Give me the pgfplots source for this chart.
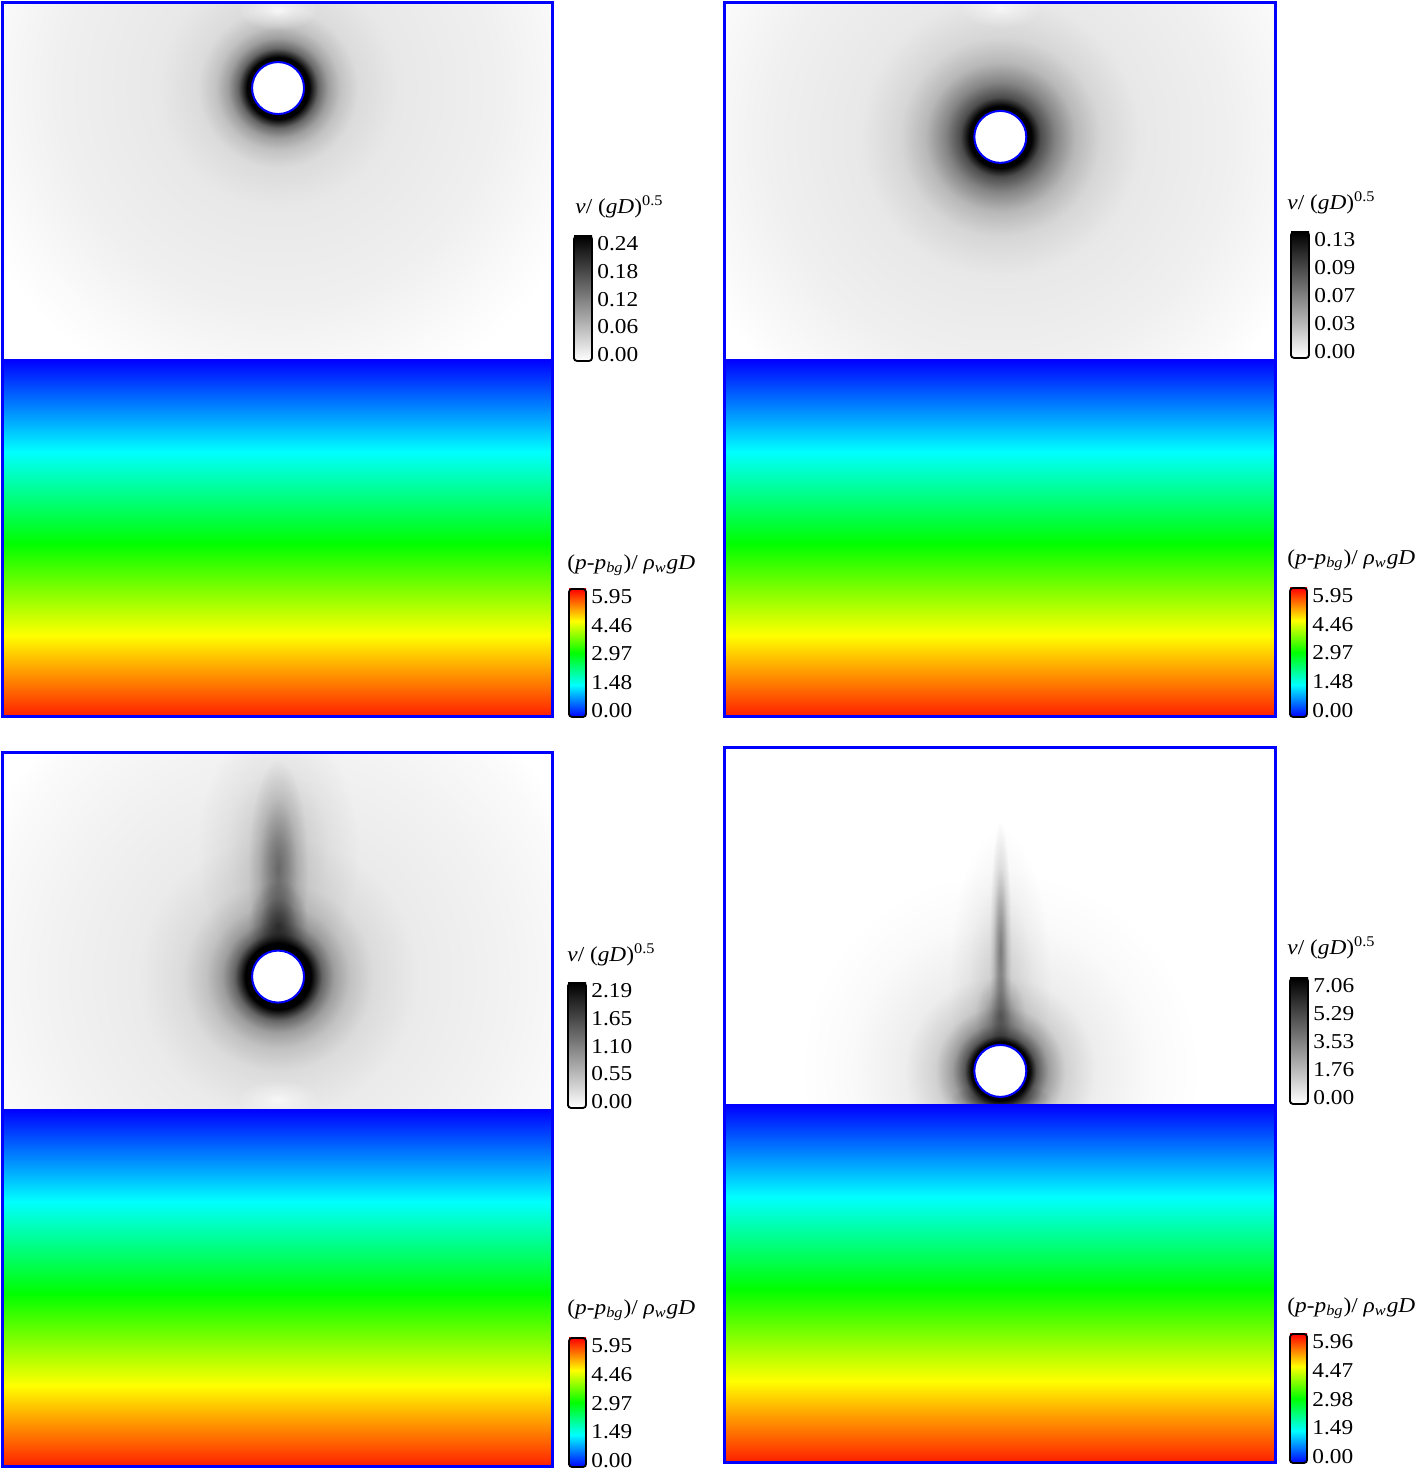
\documentclass[border=0pt]{standalone}
\usepackage{fontspec}
\setmainfont{Liberation Serif}[FakeStretch=1.1]
\usepackage{pgfplots}
\pgfplotsset{compat=1.18}

\newcommand{\lbl}{\fontsize{10.6pt}{12pt}\selectfont}
\newcommand{\vtitle}{\lbl\textit{v}/ (\textit{gD})\textsuperscript{0.5}}
\newcommand{\ptitle}{\lbl(\textit{p}-\textit{p}\textsubscript{\textit{bg}})/ \textit{ρ}\textsubscript{\textit{w}}\textit{gD}}

% colour scales
\pgfdeclareverticalshading{rainbowUp}{100bp}{color(0bp)=(blue); color(25bp)=(blue); color(37.5bp)=(cyan); color(50bp)=(green); color(62.5bp)=(yellow); color(75bp)=(red); color(100bp)=(red)}
\pgfdeclareverticalshading{rainbowDown}{100bp}{color(0bp)=(red); color(25bp)=(red); color(37.5bp)=(yellow); color(50bp)=(green); color(62.5bp)=(cyan); color(75bp)=(blue); color(100bp)=(blue)}
\pgfdeclareverticalshading{grayUp}{100bp}{color(0bp)=(white); color(25bp)=(white); color(75bp)=(black); color(100bp)=(black)}

% velocity halos around the cylinder (radius 25bp = half side of the square)
\pgfdeclareradialshading{haloTL}{\pgfpoint{0bp}{0bp}}{color(0bp)=(black); color(2.35bp)=(black); color(3.03bp)=(black!60); color(3.79bp)=(black!38); color(4.7bp)=(black!24); color(6.06bp)=(black!14); color(9.1bp)=(black!9); color(16.7bp)=(black!6); color(22bp)=(black!2); color(25bp)=(white); color(50bp)=(white)}
\pgfdeclareradialshading{haloTR}{\pgfpoint{0bp}{0bp}}{color(0bp)=(black); color(2.35bp)=(black); color(3.03bp)=(black!70); color(4.17bp)=(black!48); color(5.68bp)=(black!28); color(7.58bp)=(black!16); color(10.6bp)=(black!9); color(17.4bp)=(black!6); color(22.7bp)=(black!2); color(25bp)=(white); color(50bp)=(white)}
\pgfdeclareradialshading{haloBL}{\pgfpoint{0bp}{0bp}}{color(0bp)=(black); color(2.5bp)=(black); color(3.33bp)=(black!60); color(4.24bp)=(black!38); color(5.45bp)=(black!24); color(7.2bp)=(black!14); color(10.6bp)=(black!8); color(17.4bp)=(black!5); color(22.7bp)=(black!2); color(25bp)=(white); color(50bp)=(white)}
\pgfdeclareradialshading{haloBR}{\pgfpoint{0bp}{0bp}}{color(0bp)=(black); color(3.63bp)=(black); color(4.5bp)=(black!65); color(6bp)=(black!38); color(8.13bp)=(black!18); color(11.9bp)=(black!7); color(18.75bp)=(black!2); color(25bp)=(white); color(50bp)=(white)}
\pgfdeclareradialshading{plume}{\pgfpoint{0bp}{0bp}}{color(0bp)=(black!60); color(8bp)=(black!40); color(16bp)=(black!15); color(25bp)=(white); color(50bp)=(white)}
\pgfdeclareradialshading{spot}{\pgfpoint{0bp}{0bp}}{color(0bp)=(white); color(8bp)=(black!40); color(25bp)=(black); color(50bp)=(black)}

\pgfplotsset{
  field/.style={anchor=south west, scale only axis, xmin=0, xmax=10, ymin=0, ymax=13,
    xtick=\empty, ytick=\empty, axis line style={draw=blue, line width=1.5pt}, axis on top},
  cb/.style={anchor=south west, scale only axis, xmin=0, xmax=1, ymin=0, ymax=1,
    xtick=\empty, ytick={0.05,0.2725,0.495,0.7175,0.94}, yticklabel pos=right,
    major tick length=0pt, axis line style={black, line width=0.9pt, rounded corners=1.5pt},
    yticklabel style={font=\lbl, inner xsep=2.5pt}, axis on top},
  plumestyle/.style={draw=none, shading=plume, blend mode=multiply, opacity=#1},
  spotstyle/.style={draw=none, shading=spot, blend mode=screen, opacity=#1},
  cyl/.style={only marks, mark=*, mark size=13pt, mark options={fill=white, draw=blue, line width=1pt}},
}

\begin{document}
\begin{tikzpicture}
\useasboundingbox (0,0) rectangle (707.5pt,735pt);

% ---------------- top left ----------------
\begin{axis}[field, at={(1.25pt,376.75pt)}, width=275pt, height=356.75pt]
\addplot[draw=none, shading=haloTL] coordinates {(-0.99,5.45) (11.01,5.45) (11.01,17.45) (-0.99,17.45)};
\addplot[spotstyle=0.8] coordinates {(4.28,12.51) (5.74,12.51) (5.74,13.23) (4.28,13.23)};
\addplot[draw=none, shading=rainbowDown] coordinates {(-0.2,-0.2) (10.2,-0.2) (10.2,6.5) (-0.2,6.5)};
\addplot[cyl] coordinates {(5.01,11.45)};
\end{axis}
\begin{axis}[cb, at={(287pt,554.5pt)}, width=9pt, height=62.5pt, yticklabels={0.00,0.06,0.12,0.18,0.24}]
\addplot[draw=none, shading=grayUp] coordinates {(0,0) (1,0) (1,1) (0,1)};
\end{axis}
\begin{axis}[cb, at={(284.5pt,376.5pt)}, width=8.5pt, height=64pt, yticklabels={0.00,1.48,2.97,4.46,5.95}]
\addplot[draw=none, shading=rainbowUp] coordinates {(0,0) (1,0) (1,1) (0,1)};
\end{axis}
\node[anchor=west, inner sep=0pt] at (287.5pt,631.5pt) {\vtitle};
\node[anchor=west, inner sep=0pt] at (283.5pt,452.5pt) {\ptitle};

% ---------------- top right ----------------
\begin{axis}[field, at={(362.25pt,376.75pt)}, width=275.25pt, height=356.75pt]
\addplot[draw=none, shading=haloTR] coordinates {(-0.99,4.56) (11.01,4.56) (11.01,16.56) (-0.99,16.56)};
\addplot[spotstyle=0.7] coordinates {(4.28,12.55) (5.74,12.55) (5.74,13.27) (4.28,13.27)};
\addplot[draw=none, shading=rainbowDown] coordinates {(-0.2,-0.2) (10.2,-0.2) (10.2,6.5) (-0.2,6.5)};
\addplot[cyl] coordinates {(5.01,10.56)};
\end{axis}
\begin{axis}[cb, at={(645.5pt,556pt)}, width=9pt, height=63pt, yticklabels={0.00,0.03,0.07,0.09,0.13}]
\addplot[draw=none, shading=grayUp] coordinates {(0,0) (1,0) (1,1) (0,1)};
\end{axis}
\begin{axis}[cb, at={(645pt,376.5pt)}, width=8.5pt, height=64.5pt, yticklabels={0.00,1.48,2.97,4.46,5.95}]
\addplot[draw=none, shading=rainbowUp] coordinates {(0,0) (1,0) (1,1) (0,1)};
\end{axis}
\node[anchor=west, inner sep=0pt] at (643.5pt,633.5pt) {\vtitle};
\node[anchor=west, inner sep=0pt] at (643.5pt,455pt) {\ptitle};

% ---------------- bottom left ----------------
\begin{axis}[field, at={(1.25pt,1.75pt)}, width=275pt, height=357pt]
\addplot[draw=none, shading=haloBL] coordinates {(-0.99,2.92) (11.01,2.92) (11.01,14.92) (-0.99,14.92)};
\addplot[plumestyle=0.3]  coordinates {(3.555,8.86) (6.465,8.86) (6.465,13.6) (3.555,13.6)};
\addplot[plumestyle=0.75] coordinates {(4.465,8.87) (5.555,8.87) (5.555,12.87) (4.465,12.87)};
\addplot[plumestyle=0.95] coordinates {(4.465,9.04) (5.555,9.04) (5.555,10.68) (4.465,10.68)};
\addplot[spotstyle=0.7] coordinates {(4.28,6.32) (5.74,6.32) (5.74,7.04) (4.28,7.04)};
\addplot[draw=none, shading=rainbowDown] coordinates {(-0.2,-0.2) (10.2,-0.2) (10.2,6.5) (-0.2,6.5)};
\addplot[cyl] coordinates {(5.01,8.92)};
\end{axis}
\begin{axis}[cb, at={(284pt,181pt)}, width=9pt, height=62.5pt, yticklabels={0.00,0.55,1.10,1.65,2.19}]
\addplot[draw=none, shading=grayUp] coordinates {(0,0) (1,0) (1,1) (0,1)};
\end{axis}
\begin{axis}[cb, at={(284.5pt,1.5pt)}, width=8.5pt, height=64.5pt, yticklabels={0.00,1.49,2.97,4.46,5.95}]
\addplot[draw=none, shading=rainbowUp] coordinates {(0,0) (1,0) (1,1) (0,1)};
\end{axis}
\node[anchor=west, inner sep=0pt] at (283.5pt,257.5pt) {\vtitle};
\node[anchor=west, inner sep=0pt] at (283.5pt,80pt) {\ptitle};

% ---------------- bottom right ----------------
\begin{axis}[field, at={(362.25pt,4pt)}, width=275.25pt, height=357pt]
\addplot[draw=none, shading=haloBR] coordinates {(1.37,3.48) (8.65,3.48) (8.65,10.76) (1.37,10.76)};
\addplot[plumestyle=0.25] coordinates {(4.10,6.05) (5.92,6.05) (5.92,11.51) (4.10,11.51)};
\addplot[plumestyle=0.7]  coordinates {(4.81,6.96) (5.21,6.96) (5.21,11.70) (4.81,11.70)};
\addplot[plumestyle=0.6]  coordinates {(4.56,7.41) (5.46,7.41) (5.46,8.87) (4.56,8.87)};
\addplot[plumestyle=0.9]  coordinates {(4.10,6.36) (5.92,6.36) (5.92,6.90) (4.10,6.90)};
\addplot[draw=none, shading=rainbowDown] coordinates {(-0.2,-0.2) (10.2,-0.2) (10.2,6.5) (-0.2,6.5)};
\addplot[cyl] coordinates {(5.01,7.12)};
\end{axis}
\begin{axis}[cb, at={(645pt,183pt)}, width=9pt, height=63pt, yticklabels={0.00,1.76,3.53,5.29,7.06}]
\addplot[draw=none, shading=grayUp] coordinates {(0,0) (1,0) (1,1) (0,1)};
\end{axis}
\begin{axis}[cb, at={(645pt,3.5pt)}, width=8.5pt, height=64.5pt, yticklabels={0.00,1.49,2.98,4.47,5.96}]
\addplot[draw=none, shading=rainbowUp] coordinates {(0,0) (1,0) (1,1) (0,1)};
\end{axis}
\node[anchor=west, inner sep=0pt] at (643.5pt,261pt) {\vtitle};
\node[anchor=west, inner sep=0pt] at (643.5pt,81pt) {\ptitle};
\end{tikzpicture}
\end{document}
